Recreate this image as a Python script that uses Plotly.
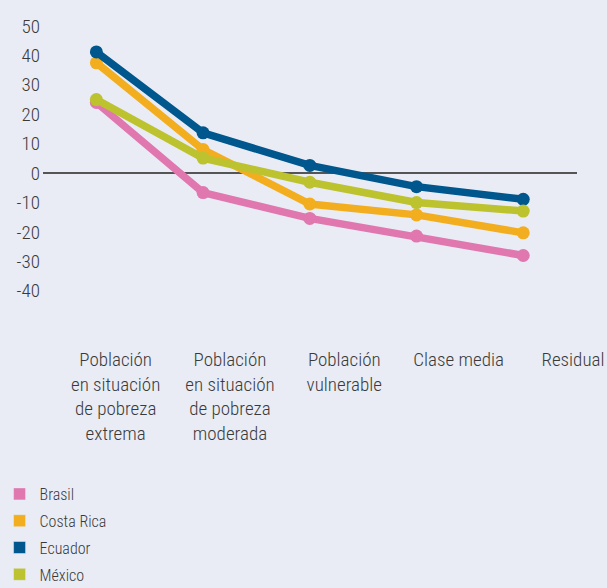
import plotly.graph_objects as go

categories = [
    "Población<br>en situación<br>de pobreza<br>extrema",
    "Población<br>en situación<br>de pobreza<br>moderada",
    "Población<br>vulnerable",
    "Clase media",
    "Residual",
]
category_keys = ["extrema", "moderada", "vulnerable", "media", "residual"]

series_names = ["Brasil", "Costa Rica", "Ecuador", "México"]
brasil = [24.0, -6.6, -15.4, -21.4, -28.0]
costa_rica = [37.5, 8.0, -10.5, -14.2, -20.3]
ecuador = [41.2, 13.7, 2.6, -4.6, -8.9]
mexico = [25.0, 5.1, -3.1, -10.0, -12.9]
series_values = [brasil, costa_rica, ecuador, mexico]
colors = ["#E077AE", "#F2AE1F", "#00578E", "#BDC22F"]

y_ticks = [-40, -30, -20, -10, 0, 10, 20, 30, 40, 50]
y_tick_labels = ["-40", "-30", "-20", "-10", "0", "10", "20", "30", "40", "50"]

FONT = "Roboto Condensed, Liberation Sans Narrow, Arial Narrow, Liberation Sans, sans-serif"
TXT = "#3a3a3a"
BG = "#E9ECF5"

fig = go.Figure()
for name, vals, col in zip(series_names, series_values, colors):
    fig.add_trace(go.Scatter(
        x=category_keys, y=vals, mode="lines+markers", name=name,
        line=dict(color=col, width=7.5), marker=dict(color=col, size=13),
        showlegend=False, xaxis="x", yaxis="y", cliponaxis=False,
    ))
# legend swatches (no data); attached to the label axis so it gets drawn
for name, col in zip(series_names, colors):
    fig.add_trace(go.Bar(
        x=[None], y=[None], name=name, marker=dict(color=col),
        showlegend=True, legendgroup=name, xaxis="x2", yaxis="y2",
        hoverinfo="skip",
    ))

W, H = 607, 588
left, top = 43.4, 26
paper_bottom = 346
paper_h = paper_bottom - top
plot_bottom = 290.8
paper_w = W - left
main_right = 576.6
ydom0 = (paper_bottom - plot_bottom) / paper_h
xdom1 = (main_right - left) / paper_w

lab0 = 116.0
lab_step = 114.25
r0 = -(lab0 - left) / lab_step
r1 = r0 + paper_w / lab_step

tf = dict(size=19, color=TXT, weight=300)

fig.update_layout(
    width=W, height=H,
    margin=dict(l=left, r=0, t=top, b=H - paper_bottom, pad=0, autoexpand=False),
    paper_bgcolor=BG, plot_bgcolor=BG,
    font=dict(family=FONT, size=19, color=TXT, weight=300),
    xaxis=dict(
        type="category", categoryorder="array", categoryarray=category_keys,
        range=[-0.5, 4.5], domain=[0, xdom1], anchor="y", automargin=False,
        showticklabels=False, showgrid=False, zeroline=False, showline=False,
    ),
    yaxis=dict(
        range=[-40, 50], domain=[ydom0, 1], anchor="x", automargin=False,
        tickmode="array", tickvals=y_ticks, ticktext=y_tick_labels,
        showgrid=False, zeroline=True, zerolinecolor="#555555", zerolinewidth=1.5,
        showline=False, ticks="", ticklabelstandoff=2,
        tickfont=tf,
    ),
    xaxis2=dict(
        type="linear", range=[r0, r1], domain=[0, 1], anchor="y2", automargin=False,
        tickmode="array", tickvals=list(range(len(categories))), ticktext=categories,
        showgrid=False, zeroline=False, showline=False, ticks="",
        tickfont=tf, tickangle=0, fixedrange=True,
    ),
    yaxis2=dict(
        type="linear", range=[0, 1], domain=[0, ydom0 * 0.5], anchor="x2",
        automargin=False,
        showticklabels=False, showgrid=False, zeroline=False, showline=False,
        ticks="", fixedrange=True,
    ),
    legend=dict(
        x=-left / paper_w, xanchor="left",
        y=(paper_bottom - 477) / paper_h, yanchor="top",
        orientation="v", font=dict(family=FONT, size=16, color=TXT, weight=300),
        bgcolor="rgba(0,0,0,0)", tracegroupgap=3, traceorder="grouped",
    ),
    showlegend=True,
)

fig.write_html("out.html", config={"displayModeBar": False},
               post_script="document.body.style.margin='0';")
